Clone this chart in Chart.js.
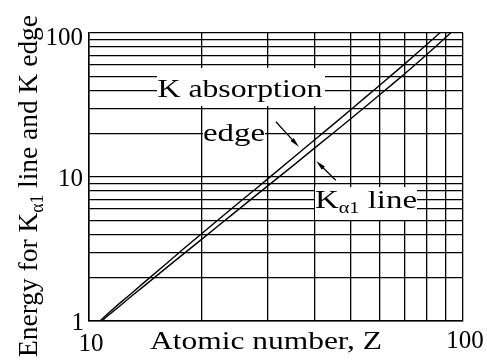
<!DOCTYPE html>
<html>
<head>
<meta charset="utf-8">
<script src="https://cdn.jsdelivr.net/npm/chart.js@4"></script>
<style>
  html, body { margin: 0; padding: 0; background: #fff; }
  #wrap { width: 487px; height: 362px; }
</style>
</head>
<body>
<div id="wrap"><canvas id="kChart" width="487" height="362"></canvas></div>
<script>
// K absorption edge: atomic number and energy (keV)
const edgeZ = [10.7, 11, 12, 13, 14, 16, 18, 20, 22, 24, 26, 28, 30, 35, 40, 45, 50, 55, 60, 65, 70, 75, 80, 85, 88];
const edgeE = [1.0, 1.07, 1.31, 1.56, 1.84, 2.47, 3.21, 4.04, 4.97, 5.99, 7.11, 8.33, 9.66, 13.5, 18.0, 23.2, 29.2, 36.0, 43.6, 52.0, 61.3, 71.7, 83.1, 95.7, 103.9];

// K alpha1 line
const kaZ = [10.85, 11, 12, 13, 14, 16, 18, 20, 22, 24, 26, 28, 30, 35, 40, 45, 50, 55, 60, 65, 70, 75, 80, 85, 90, 94];
const kaE = [1.0, 1.04, 1.25, 1.49, 1.74, 2.31, 2.96, 3.69, 4.51, 5.41, 6.40, 7.48, 8.64, 11.9, 15.8, 20.2, 25.3, 31.0, 37.4, 44.5, 52.4, 61.1, 70.8, 81.5, 93.4, 103.7];

// grid lines and labelled ticks
const xGrid = [10, 20, 30, 40, 50, 60, 70, 80, 90, 100];
const yGrid = [1, 2, 3, 4, 5, 6, 7, 8, 9, 10, 20, 30, 40, 50, 60, 70, 80, 90, 100];
const xTickLabels = [10, 100];
const yTickLabels = [1, 10, 100];

const toPts = (xs, ys) => xs.map((v, i) => ({ x: v, y: ys[i] }));

const SERIF = '"Liberation Serif", "Times New Roman", serif';

function richWidth(ctx, parts) {
  let w = 0;
  for (const p of parts) { ctx.font = p.font; w += ctx.measureText(p.t).width; }
  return w;
}

// draw text centred on cx, stretched to the wanted width (the scan is stretched sideways)
function drawRich(ctx, parts, cx, base, width) {
  const w = richWidth(ctx, parts);
  ctx.save();
  ctx.translate(cx, base);
  ctx.scale(width / w, 1);
  let xx = -w / 2;
  for (const p of parts) {
    ctx.font = p.font;
    ctx.fillText(p.t, xx, p.dy || 0);
    xx += ctx.measureText(p.t).width;
  }
  ctx.restore();
}

function arrow(ctx, x0, y0, x1, y1) {
  const a = Math.atan2(y1 - y0, x1 - x0);
  const L = 10, W = 2.2;
  const c = Math.cos(a), s = Math.sin(a);
  ctx.beginPath();
  ctx.moveTo(x0, y0);
  ctx.lineTo(x1 - L * 0.6 * c, y1 - L * 0.6 * s);
  ctx.stroke();
  ctx.beginPath();
  ctx.moveTo(x1, y1);
  ctx.lineTo(x1 - L * c + W * s, y1 - L * s - W * c);
  ctx.lineTo(x1 - L * c - W * s, y1 - L * s + W * c);
  ctx.closePath();
  ctx.fill();
}

const overlay = {
  id: 'overlay',
  afterDatasetsDraw(chart) {
    const { ctx, chartArea: a, scales: { x, y } } = chart;
    ctx.save();
    ctx.fillStyle = '#000';
    ctx.strokeStyle = '#000';
    ctx.textBaseline = 'alphabetic';

    // white boxes under the labels
    ctx.fillStyle = '#fff';
    ctx.fillRect(157, 68, 168, 38);
    ctx.fillRect(203, 119, 62, 30);
    ctx.fillRect(315, 187, 102, 33);
    ctx.fillStyle = '#000';

    drawRich(ctx, [{ t: 'K absorption', font: '26px ' + SERIF }], 240, 97, 165);
    drawRich(ctx, [{ t: 'edge', font: '26px ' + SERIF }], 234, 141, 62);
    drawRich(ctx, [
      { t: 'K', font: '26px ' + SERIF },
      { t: 'α1', font: '16px ' + SERIF, dy: 5 },
      { t: ' line', font: '26px ' + SERIF }
    ], 366, 208, 102);

    // arrows pointing at the two curves
    ctx.lineWidth = 1.2;
    arrow(ctx, x.getPixelForValue(31.6), y.getPixelForValue(24.2), x.getPixelForValue(36.4), y.getPixelForValue(16.2));
    arrow(ctx, x.getPixelForValue(45.7), y.getPixelForValue(9.5), x.getPixelForValue(40.5), y.getPixelForValue(12.9));

    // tick labels
    ctx.font = '25px ' + SERIF;
    ctx.textAlign = 'right';
    yTickLabels.forEach((v, i) => {
      const off = [9, 9, 12][i];
      ctx.fillText(String(v), a.left - 6 + (i === 0 ? 1 : 0), y.getPixelForValue(v) + off);
    });
    ctx.textAlign = 'center';
    xTickLabels.forEach((v, i) => {
      ctx.fillText(String(v), x.getPixelForValue(v) + 2, a.bottom + (i === 0 ? 30 : 27));
    });

    // axis titles
    ctx.textAlign = 'left';
    drawRich(ctx, [{ t: 'Atomic number, Z', font: '26px ' + SERIF }], 266, 349, 232);
    ctx.save();
    ctx.translate(37, 186);
    ctx.rotate(-Math.PI / 2);
    drawRich(ctx, [
      { t: 'Energy for K', font: '28px ' + SERIF },
      { t: 'α1', font: '18px ' + SERIF, dy: 6 },
      { t: ' line and K edge', font: '28px ' + SERIF }
    ], 0, 0, 342);
    ctx.restore();
    ctx.restore();
  }
};

const axisOpts = {
  type: 'logarithmic',
  ticks: { display: false },
  grid: { color: '#000', lineWidth: 1.3, drawTicks: false },
  border: { display: true, color: '#000', width: 1.5 }
};

new Chart(document.getElementById('kChart').getContext('2d'), {
  type: 'line',
  data: {
    datasets: [
      {
        label: 'K absorption edge',
        data: toPts(edgeZ, edgeE),
        borderColor: '#000',
        borderWidth: 1.4,
        pointRadius: 0,
        fill: false
      },
      {
        label: 'K\u03b11 line',
        data: toPts(kaZ, kaE),
        borderColor: '#000',
        borderWidth: 1.4,
        pointRadius: 0,
        fill: false
      }
    ]
  },
  options: {
    responsive: false,
    animation: false,
    devicePixelRatio: 1,
    layout: { padding: { left: 89, right: 24, top: 33, bottom: 41 } },
    plugins: { legend: { display: false }, tooltip: { enabled: false } },
    scales: {
      x: {
        ...axisOpts, min: 10, max: 100,
        afterBuildTicks: s => { s.ticks = xGrid.map(v => ({ value: v })); }
      },
      y: {
        ...axisOpts, min: 1, max: 100,
        afterBuildTicks: s => { s.ticks = yGrid.map(v => ({ value: v })); }
      }
    }
  },
  plugins: [overlay]
});
</script>
</body>
</html>
